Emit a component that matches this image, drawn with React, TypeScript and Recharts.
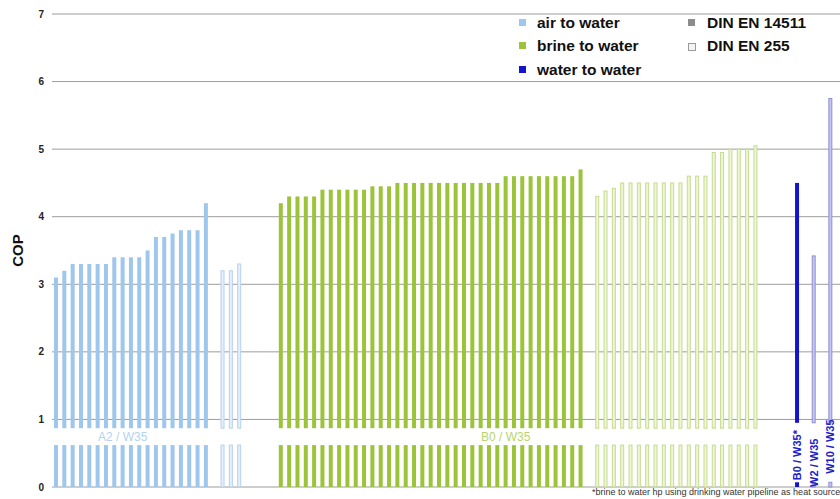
import React from "react";
import {
  BarChart,
  Bar,
  XAxis,
  YAxis,
  CartesianGrid,
  ReferenceArea,
  LabelList,
} from "recharts";

// COP values, grouped by source and test standard
const airEN14511 = [
  3.1, 3.2, 3.3, 3.3, 3.3, 3.3, 3.3, 3.4, 3.4, 3.4, 3.4, 3.5, 3.7, 3.7, 3.75,
  3.8, 3.8, 3.8, 4.2,
];
const airEN255 = [3.2, 3.2, 3.3];
const brineEN14511 = [
  4.2, 4.3, 4.3, 4.3, 4.3, 4.4, 4.4, 4.4, 4.4, 4.4, 4.4, 4.45, 4.45, 4.45, 4.5,
  4.5, 4.5, 4.5, 4.5, 4.5, 4.5, 4.5, 4.5, 4.5, 4.5, 4.5, 4.5, 4.6, 4.6, 4.6,
  4.6, 4.6, 4.6, 4.6, 4.6, 4.6, 4.7,
];
const brineEN255 = [
  4.3, 4.38, 4.42, 4.5, 4.5, 4.5, 4.5, 4.5, 4.5, 4.5, 4.5, 4.6, 4.6, 4.6, 4.95,
  4.95, 5.0, 5.0, 5.0, 5.05,
];
const waterEN14511 = [4.5];
const waterEN255 = [3.42, 5.75];
const waterTags = ["B0 / W35*", "W2 / W35", "W10 / W35"];
const yTicks = [0, 1, 2, 3, 4, 5, 6, 7];

type Row = {
  slot: string;
  cop: number | null;
  type?: string;
  norm?: string;
  tag?: string;
};

// group order on the x axis: [type, norm, values, step, gapAfter]
const groups: [string, string, number[], number, number][] = [
  ["air", "EN14511", airEN14511, 1, 1],
  ["air", "EN255", airEN255, 1, 4],
  ["brine", "EN14511", brineEN14511, 1, 1],
  ["brine", "EN255", brineEN255, 1, 4],
  ["water", "EN14511", waterEN14511, 2, 0],
  ["water", "EN255", waterEN255, 2, 0],
];

const rows: Row[] = [];
let tagIdx = 0;
groups.forEach(([type, norm, values, step, gapAfter]) => {
  values.forEach((v) => {
    const r: Row = { slot: String(rows.length), cop: v, type, norm };
    if (type === "water") r.tag = waterTags[tagIdx++];
    rows.push(r);
    for (let k = 1; k < step; k++) rows.push({ slot: String(rows.length), cop: null });
  });
  for (let k = 0; k < gapAfter; k++) rows.push({ slot: String(rows.length), cop: null });
});

const styles: Record<string, Record<string, { fill: string; stroke?: string }>> = {
  air: {
    EN14511: { fill: "#9fc6ec" },
    EN255: { fill: "#e4effa", stroke: "#b6d2ee" },
  },
  brine: {
    EN14511: { fill: "#9cc43a" },
    EN255: { fill: "#eef5d8", stroke: "#c6dc8c" },
  },
  water: {
    EN14511: { fill: "#1414cc" },
    EN255: { fill: "#c4c4ee", stroke: "#9090d4" },
  },
};

function GapBar(props: any) {
  const { x, y, width, height, payload } = props;
  if (!payload || payload.cop == null || !height || height <= 0) return null;
  const st = styles[payload.type][payload.norm];
  const ppu = height / payload.cop;
  const base = y + height;
  // white band where the group labels sit
  const [g0, g1] = payload.type === "water" ? [0.07, 0.95] : [0.62, 0.87];
  const lowH = g0 * ppu;
  const upBottom = base - g1 * ppu;
  const sw = st.stroke ? 1 : 0;
  return (
    <g>
      <rect
        x={x + sw / 2}
        y={base - lowH}
        width={width - sw}
        height={lowH}
        fill={st.fill}
        stroke={st.stroke || "none"}
        strokeWidth={sw}
      />
      <rect
        x={x + sw / 2}
        y={y}
        width={width - sw}
        height={upBottom - y}
        fill={st.fill}
        stroke={st.stroke || "none"}
        strokeWidth={sw}
      />
    </g>
  );
}

function WaterTag(props: any) {
  const { x, y, width, height, value, index } = props;
  if (!value) return null;
  const cop = rows[index]?.cop ?? 1;
  const ppu = height / cop;
  const cx = x + width / 2;
  const cy = y + height - 0.52 * ppu;
  return (
    <text
      x={cx}
      y={cy}
      transform={`rotate(-90 ${cx} ${cy})`}
      textAnchor="middle"
      dominantBaseline="central"
      fontSize={11}
      fontWeight="bold"
      fill="#2020c8"
    >
      {value}
    </text>
  );
}

const legendText: React.CSSProperties = {
  position: "absolute",
  fontSize: 15.5,
  fontWeight: "bold",
  color: "#111",
  lineHeight: "18px",
  whiteSpace: "nowrap",
};

function Sq({ left, top, fill, stroke }: { left: number; top: number; fill: string; stroke?: string }) {
  return (
    <div
      style={{
        position: "absolute",
        left,
        top,
        width: stroke ? 6 : 7,
        height: stroke ? 6 : 7,
        background: fill,
        border: stroke ? `1px solid ${stroke}` : "none",
      }}
    />
  );
}

export default function App() {
  return (
    <div
      style={{
        position: "absolute",
        left: 0,
        top: 0,
        width: 840,
        height: 499,
        overflow: "hidden",
        background: "#fff",
        fontFamily: "'Liberation Sans', Arial, sans-serif",
      }}
    >
      <BarChart
        width={843}
        height={499}
        data={rows}
        margin={{ top: 14, right: 0, bottom: 12, left: 0 }}
        style={{ fontFamily: "'Liberation Sans', Arial, sans-serif" }}
      >
        <CartesianGrid vertical={false} stroke="#9c9c9c" strokeWidth={1} />
        <XAxis dataKey="slot" hide />
        <YAxis
          width={52}
          domain={[0, 7]}
          ticks={yTicks}
          interval={0}
          axisLine={false}
          tickLine={false}
          tick={{ fontSize: 10, fontWeight: "bold", fill: "#222" }}
          label={{
            value: "COP",
            angle: -90,
            position: "center",
            dx: -8,
            style: { fontSize: 15, fontWeight: "bold", fill: "#111" },
          }}
        />
        <ReferenceArea
          x1="0"
          x2="16"
          y1={0.62}
          y2={0.87}
          fillOpacity={0}
          strokeOpacity={0}
          label={{ value: "A2 / W35", position: "center", fill: "#b3d2f0", fontSize: 12 }}
        />
        <ReferenceArea
          x1="28"
          x2="80"
          y1={0.62}
          y2={0.87}
          fillOpacity={0}
          strokeOpacity={0}
          label={{ value: "B0 / W35", position: "center", fill: "#b8d46c", fontSize: 12 }}
        />
        <Bar dataKey="cop" barSize={4} shape={GapBar} isAnimationActive={false}>
          <LabelList dataKey="tag" content={WaterTag} />
        </Bar>
      </BarChart>

      <Sq left={519} top={19} fill="#9fc6ec" />
      <div style={{ ...legendText, left: 537, top: 14 }}>air to water</div>
      <Sq left={519} top={42} fill="#9cc43a" />
      <div style={{ ...legendText, left: 537, top: 37 }}>brine to water</div>
      <Sq left={519} top={66} fill="#1414cc" />
      <div style={{ ...legendText, left: 537, top: 61 }}>water to water</div>
      <Sq left={688} top={19} fill="#8c8c8c" />
      <div style={{ ...legendText, left: 707, top: 14 }}>DIN EN 14511</div>
      <Sq left={688} top={43} fill="#f4f4f4" stroke="#9a9a9a" />
      <div style={{ ...legendText, left: 707, top: 37 }}>DIN EN 255</div>

      <div
        style={{
          position: "absolute",
          left: 592,
          top: 487,
          fontSize: 9,
          color: "#333",
          whiteSpace: "nowrap",
          lineHeight: "10px",
        }}
      >
        *brine to water hp using drinking water pipeline as heat source
      </div>
    </div>
  );
}
